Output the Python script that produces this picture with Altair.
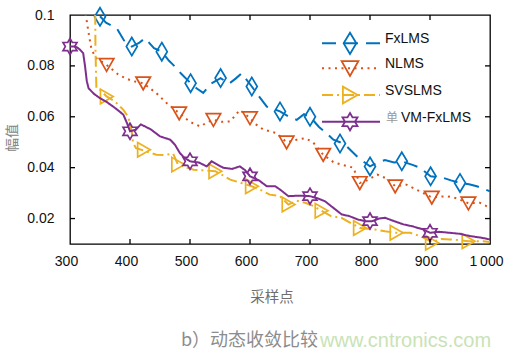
import altair as alt
import pandas as pd

# ---------------- data ----------------
fx_x = [350, 360, 378, 390, 403, 415, 425, 440, 453, 465, 472, 485, 501, 512, 522, 535, 551, 565, 576, 586,
        603, 615, 628, 650, 665, 678, 690, 700, 715, 730, 739, 750, 761, 780, 800, 812, 825, 840, 853, 872,
        883, 901, 922, 935, 950, 965, 978, 1000]
fx_y = [0.0995, 0.097, 0.0948, 0.090, 0.0876, 0.089, 0.0909, 0.087, 0.0856, 0.082, 0.0804, 0.077, 0.0732, 0.071,
        0.0694, 0.073, 0.0752, 0.073, 0.075, 0.0771, 0.0719, 0.068, 0.064, 0.0621, 0.060, 0.0588, 0.061, 0.060,
        0.056, 0.053, 0.051, 0.050, 0.0484, 0.044, 0.0405, 0.042, 0.043, 0.042, 0.0425, 0.041, 0.040, 0.0366,
        0.036, 0.035, 0.034, 0.0335, 0.0327, 0.0307]
fx_mx = [350, 403, 453, 501, 551, 603, 650, 700, 750, 800, 853, 901, 950]
fx_my = [0.0993, 0.0876, 0.0856, 0.0732, 0.0752, 0.0719, 0.0621, 0.060, 0.0495, 0.0405, 0.0425, 0.0366, 0.034]

nl_x = [326, 332, 336, 344, 361, 381, 392, 405, 422, 444, 461, 482, 500, 517, 530, 539, 553, 567, 583, 600,
        610, 622, 644, 661, 678, 692, 705, 722, 740, 753, 772, 783, 795, 812, 830, 842, 861, 883, 903, 928,
        944, 964, 983, 1000]
nl_y = [0.1005, 0.0915, 0.0863, 0.083, 0.0804, 0.0765, 0.0752, 0.074, 0.0732, 0.0693, 0.0654, 0.0614, 0.058,
        0.0562, 0.058, 0.0588, 0.058, 0.0582, 0.0627, 0.0595, 0.057, 0.055, 0.0536, 0.050, 0.051, 0.0516, 0.050,
        0.0451, 0.042, 0.0412, 0.040, 0.034, 0.035, 0.0373, 0.0355, 0.0327, 0.0333, 0.0307, 0.0283, 0.0288,
        0.028, 0.026, 0.0262, 0.0242]
nl_mx = [361, 422, 482, 539, 600, 661, 722, 783, 842, 903, 964]
nl_my = [0.0804, 0.0732, 0.0614, 0.0588, 0.0595, 0.050, 0.0451, 0.034, 0.0327, 0.0283, 0.026]

sv_x = [342, 342.5, 344, 350, 361, 375, 389, 397, 403, 405, 410, 422, 444, 458, 472, 480, 506, 520, 542, 555,
        567, 585, 603, 620, 633, 650, 664, 678, 692, 705, 719, 735, 753, 770, 783, 808, 825, 844, 867, 885,
        903, 920, 933, 950, 964, 989, 1000]
sv_y = [0.1005, 0.086, 0.0712, 0.0706, 0.068, 0.066, 0.0627, 0.060, 0.0542, 0.0497, 0.0477, 0.0468, 0.0451,
        0.045, 0.0455, 0.0412, 0.0392, 0.039, 0.0386, 0.037, 0.0353, 0.034, 0.0327, 0.031, 0.0294, 0.0288,
        0.0255, 0.027, 0.0262, 0.025, 0.0231, 0.021, 0.0202, 0.018, 0.0163, 0.0157, 0.015, 0.0144, 0.0144,
        0.013, 0.0108, 0.012, 0.0118, 0.0115, 0.0111, 0.0111, 0.0108]
sv_mx = [361, 423, 480, 542, 603, 664, 719, 783, 844, 903, 964]
sv_my = [0.068, 0.047, 0.0412, 0.0386, 0.0327, 0.0255, 0.0231, 0.0163, 0.0144, 0.0105, 0.0111]

vm_x = [300, 310, 317, 322, 325, 328, 331, 340, 350, 360, 372, 383, 389, 395, 400, 410, 418, 425, 435, 450,
        467, 475, 483, 490, 500, 515, 528, 536, 555, 570, 583, 592, 600, 615, 628, 642, 650, 664, 680, 700,
        712, 725, 740, 753, 765, 780, 792, 803, 815, 825, 840, 856, 870, 889, 900, 915, 933, 950, 967, 985, 1000]
vm_y = [0.0876, 0.0876, 0.0863, 0.085, 0.080, 0.074, 0.0712, 0.069, 0.0673, 0.066, 0.064, 0.062, 0.0608,
        0.0575, 0.0543, 0.055, 0.057, 0.0562, 0.055, 0.0523, 0.051, 0.049, 0.0458, 0.044, 0.0425, 0.042,
        0.0405, 0.0425, 0.040, 0.0395, 0.0405, 0.039, 0.0366, 0.035, 0.0327, 0.0327, 0.0314, 0.0288, 0.029,
        0.0288, 0.028, 0.0268, 0.024, 0.0216, 0.021, 0.0196, 0.019, 0.0189, 0.020, 0.0203, 0.019, 0.0177,
        0.017, 0.0157, 0.0144, 0.0148, 0.0144, 0.014, 0.0131, 0.0125, 0.0118]
vm_mx = [300, 400, 500, 600, 700, 800, 900]
vm_my = [0.0876, 0.0543, 0.0425, 0.0366, 0.0288, 0.019, 0.0144]

series_names = ["FxLMS", "NLMS", "SVSLMS", "VM-FxLMS"]
x_ticks = [300, 400, 500, 600, 700, 800, 900, 1000]
y_ticks = [0.02, 0.04, 0.06, 0.08, 0.1]
inner_x_ticks = [400, 500, 600, 700, 800, 900]
inner_y_ticks = [0.02, 0.04, 0.06, 0.08]

# ---------------- styling ----------------
W, H = 420, 229
NUM_FONT = "Liberation Sans Narrow, Liberation Sans, Arial, sans-serif"
CJK_FONT = "Noto Sans CJK SC"
colors = ["#0072BD", "#D95319", "#EDB120", "#7E2F8E"]
dashes = [[14, 8], [2, 4.5], [11, 4, 2, 4], [1, 0]]
DIAMOND = "M0,-1L0.6,0L0,1L-0.6,0Z"
TRI_DOWN = "M-1,-0.85L1,-0.85L0,0.9Z"
TRI_RIGHT = "M-0.85,-1L0.9,0L-0.85,1Z"
HEXAGRAM = ("M0,-1L0.289,-0.5L0.866,-0.5L0.577,0L0.866,0.5L0.289,0.5L0,1L-0.289,0.5"
            "L-0.866,0.5L-0.577,0L-0.866,-0.5L-0.289,-0.5Z")
shapes = [DIAMOND, TRI_DOWN, TRI_RIGHT, HEXAGRAM]
sizes = [330, 210, 210, 260]
legend_sizes = [450, 280, 280, 300]

xs = alt.Scale(domain=[300, 1000], nice=False, zero=False)
ys = alt.Scale(domain=[0.01, 0.1], nice=False, zero=False)

x_axis = alt.Axis(values=x_ticks, ticks=False, domain=False, grid=False, title=None,
                  labelFont=NUM_FONT, labelFontSize=14, labelColor="#111",
                  labelPadding=10, labelOffset=-4, labelFlush=False,
                  labelExpr="datum.value == 1000 ? '1\u2009000' : datum.label")
y_axis = alt.Axis(values=y_ticks, ticks=False, domain=False, grid=False, title=None,
                  labelFont=NUM_FONT, labelFontSize=14, labelColor="#111",
                  labelPadding=16, format="~g", labelFlush=False)


def X(field):
    return alt.X(field, scale=xs, axis=x_axis, title=None)


def Y(field):
    return alt.Y(field, scale=ys, axis=y_axis, title=None)


lines = [(fx_x, fx_y), (nl_x, nl_y), (sv_x, sv_y), (vm_x, vm_y)]
marks = [(fx_mx, fx_my), (nl_mx, nl_my), (sv_mx, sv_my), (vm_mx, vm_my)]

layers = []
for i, name in enumerate(series_names):
    lx, ly = lines[i]
    df = pd.DataFrame({"x": lx, "y": ly})
    layers.append(
        alt.Chart(df).mark_line(color=colors[i], strokeWidth=2, strokeDash=dashes[i],
                                clip=True, interpolate="linear").encode(x=X("x:Q"), y=Y("y:Q"))
    )
    mx, my = marks[i]
    mdf = pd.DataFrame({"x": mx, "y": my})
    layers.append(
        alt.Chart(mdf).mark_point(shape=shapes[i], size=sizes[i], filled=False,
                                  color=colors[i], strokeWidth=1.7, opacity=1).encode(
            x=X("x:Q"), y=Y("y:Q"))
    )

# inward ticks on all four sides
xt_df = pd.DataFrame({"v": inner_x_ticks})
yt_df = pd.DataFrame({"v": inner_y_ticks})
layers.append(alt.Chart(xt_df).mark_rule(color="#000", strokeWidth=1.3).encode(
    x=X("v:Q"), y=alt.value(H), y2=alt.value(H - 5)))
layers.append(alt.Chart(xt_df).mark_rule(color="#000", strokeWidth=1.3).encode(
    x=X("v:Q"), y=alt.value(0), y2=alt.value(5)))
layers.append(alt.Chart(yt_df).mark_rule(color="#000", strokeWidth=1.3).encode(
    y=Y("v:Q"), x=alt.value(0), x2=alt.value(5)))
layers.append(alt.Chart(yt_df).mark_rule(color="#000", strokeWidth=1.3).encode(
    y=Y("v:Q"), x=alt.value(W), x2=alt.value(W - 5)))

# legend (drawn manually)
leg_y = [28.3, 53.3, 80, 106.7]
for i, name in enumerate(series_names):
    ldf = pd.DataFrame({"s": [name]})
    layers.append(alt.Chart(ldf).mark_rule(color=colors[i], strokeWidth=2, strokeDash=dashes[i]).encode(
        x=alt.value(252), x2=alt.value(310), y=alt.value(leg_y[i])))
    layers.append(alt.Chart(ldf).mark_point(shape=shapes[i], size=legend_sizes[i], filled=False,
                                            color=colors[i], strokeWidth=1.8, opacity=1).encode(
        x=alt.value(280), y=alt.value(leg_y[i])))
    if name == "VM-FxLMS":
        layers.append(alt.Chart(ldf).mark_text(font=CJK_FONT, fontSize=12, color="#9a9a9a",
                                               align="left", baseline="middle").encode(
            x=alt.value(316), y=alt.value(leg_y[i] - 4), text=alt.value("单")))
        layers.append(alt.Chart(ldf).mark_text(font=NUM_FONT, fontSize=14, color="#111",
                                               align="left", baseline="middle").encode(
            x=alt.value(331), y=alt.value(leg_y[i] - 4), text="s:N"))
    else:
        layers.append(alt.Chart(ldf).mark_text(font=NUM_FONT, fontSize=14, color="#111",
                                               align="left", baseline="middle").encode(
            x=alt.value(315), y=alt.value(leg_y[i] - 4.5), text="s:N"))

# axis titles, caption and watermark
txt = pd.DataFrame({"t": ["幅值", "采样点", "b）动态收敛比较", "www.cntronics.com"]})
layers.append(alt.Chart(txt).transform_filter("datum.t == '幅值'").mark_text(
    font=CJK_FONT, fontSize=14, color="#858585", angle=270, align="center", baseline="middle").encode(
    x=alt.value(-57), y=alt.value(123), text="t:N"))
layers.append(alt.Chart(txt).transform_filter("datum.t == '采样点'").mark_text(
    font=CJK_FONT, fontSize=14.5, color="#6f6f6f", align="center", baseline="middle").encode(
    x=alt.value(202), y=alt.value(282.5), text="t:N"))
layers.append(alt.Chart(txt).transform_filter("datum.t == 'b）动态收敛比较'").mark_text(
    font=CJK_FONT, fontSize=18, color="#8c8c8c", align="left", baseline="middle").encode(
    x=alt.value(111), y=alt.value(325.5), text="t:N"))
layers.append(alt.Chart(txt).transform_filter("datum.t == 'www.cntronics.com'").mark_text(
    font="Liberation Sans", fontSize=20, color="#c9e3b6", align="left", baseline="middle").encode(
    x=alt.value(250), y=alt.value(325.5), text="t:N"))

chart = alt.layer(*layers).properties(
    width=W, height=H,
    autosize=alt.AutoSizeParams(type="none"),
    padding={"left": 70, "top": 15, "right": 15, "bottom": 113},
    background="white",
).configure_view(stroke="#000", strokeWidth=1.3)

chart.save("out.html", embed_options={"renderer": "svg", "actions": False})
